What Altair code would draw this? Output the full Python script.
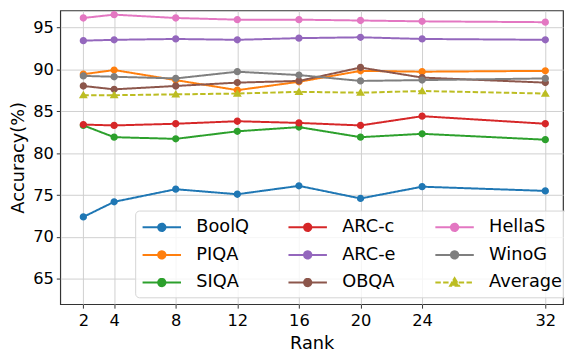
import altair as alt
import pandas as pd

ranks = [2, 4, 8, 12, 16, 20, 24, 32]
boolq = [72.4, 74.2, 75.7, 75.1, 76.1, 74.6, 76.0, 75.5]
piqa = [89.4, 89.9, 88.7, 87.5, 88.5, 89.8, 89.7, 89.8]
siqa = [83.3, 81.9, 81.7, 82.6, 83.1, 81.9, 82.3, 81.6]
arcc = [83.4, 83.3, 83.5, 83.8, 83.6, 83.3, 84.4, 83.5]
arce = [93.4, 93.5, 93.6, 93.5, 93.7, 93.8, 93.6, 93.5]
obqa = [88.0, 87.6, 88.0, 88.4, 88.6, 90.2, 89.0, 88.4]
hellas = [96.1, 96.5, 96.1, 95.9, 95.9, 95.8, 95.7, 95.6]
winog = [89.2, 89.1, 88.9, 89.7, 89.3, 88.6, 88.7, 88.9]
average = [86.9, 86.9, 87.0, 87.1, 87.3, 87.2, 87.4, 87.1]

series = {
    "BoolQ": boolq, "PIQA": piqa, "SIQA": siqa, "ARC-c": arcc, "ARC-e": arce,
    "OBQA": obqa, "HellaS": hellas, "WinoG": winog, "Average": average,
}
colors = {
    "BoolQ": "#1f77b4", "PIQA": "#ff7f0e", "SIQA": "#2ca02c", "ARC-c": "#d62728",
    "ARC-e": "#9467bd", "OBQA": "#8c564b", "HellaS": "#e377c2", "WinoG": "#7f7f7f",
    "Average": "#bcbd22",
}
legend_order = list(series.keys())

rows = []
for i, (name, vals) in enumerate(series.items()):
    for r, v in zip(ranks, vals):
        rows.append({"Rank": r, "Accuracy": v, "Series": name, "order": i})
df = pd.DataFrame(rows)

# marker glyphs with a legend line segment (segment is stroke-only, invisible on the plot)
circ_path = "M-1.95,0L1.95,0M-0.37,0A0.37,0.37,0,1,0,0.37,0A0.37,0.37,0,1,0,-0.37,0Z"
tri_path = "M-1.95,0L1.95,0M0,-0.44L0.45,0.32L-0.45,0.32Z"

color_scale = alt.Scale(domain=legend_order, range=[colors[s] for s in legend_order])
dash_scale = alt.Scale(domain=legend_order,
                       range=[[1, 0] if s != "Average" else [5.5, 2.4] for s in legend_order])
shape_scale = alt.Scale(domain=legend_order,
                        range=[circ_path if s != "Average" else tri_path for s in legend_order])

legend = alt.Legend(
    title=None,
    orient="none",
    legendX=76,
    legendY=203,
    columns=3,
    columnPadding=35,
    rowPadding=8,
    padding=6,
    symbolSize=400,
    symbolStrokeWidth=2,
    symbolOpacity=1,
    symbolOffset=10,
    labelOffset=24,
    labelFont="DejaVu Sans",
    labelFontSize=18,
    labelColor="#000000",
    fillColor="rgba(255,255,255,0.8)",
    strokeColor="#d4d4d4",
    cornerRadius=4,
)

x = alt.X(
    "Rank:Q",
    scale=alt.Scale(domain=[0.5, 33.15], nice=False, zero=False),
    axis=alt.Axis(values=ranks, title="Rank", format="d"),
)
y = alt.Y(
    "Accuracy:Q",
    scale=alt.Scale(domain=[62, 97], nice=False, zero=False),
    axis=alt.Axis(values=[65, 70, 75, 80, 85, 90, 95], title="Accuracy(%)"),
)

lines = alt.Chart(df).mark_line(strokeWidth=2).encode(
    x=x,
    y=y,
    stroke=alt.Stroke("Series:N", scale=color_scale, legend=legend),
    strokeDash=alt.StrokeDash("Series:N", scale=dash_scale, legend=legend),
    order=alt.Order("order:Q"),
)

points = alt.Chart(df).mark_point(filled=True, opacity=1, size=400).encode(
    x=x,
    y=y,
    fill=alt.Fill("Series:N", scale=color_scale, legend=legend),
    stroke=alt.Stroke("Series:N", scale=color_scale, legend=legend),
    shape=alt.Shape("Series:N", scale=shape_scale, legend=legend),
    strokeDash=alt.StrokeDash("Series:N", scale=dash_scale, legend=legend),
    strokeWidth=alt.value(0),
)

chart = alt.layer(lines, points).properties(
    width=510,
    height=298,
    autosize=alt.AutoSizeParams(type="none"),
    padding={"left": 53, "top": 0, "right": 2, "bottom": 46},
).configure_view(
    stroke="#333333", strokeWidth=1.2
).configure_axis(
    labelFont="DejaVu Sans",
    labelFontSize=16.5,
    labelColor="#000000",
    titleFont="DejaVu Sans",
    titleFontSize=18,
    titleFontWeight="normal",
    titleColor="#000000",
    grid=True,
    gridColor="#cfcfcf",
    gridWidth=1,
    domain=False,
    tickColor="#333333",
    tickSize=4,
    tickWidth=1,
    labelPadding=3,
).configure_axisY(
    titlePadding=5,
).configure_axisX(
    labelPadding=5,
    titlePadding=5,
)

chart.save("out.html", embed_options={"renderer": "svg", "actions": False})
